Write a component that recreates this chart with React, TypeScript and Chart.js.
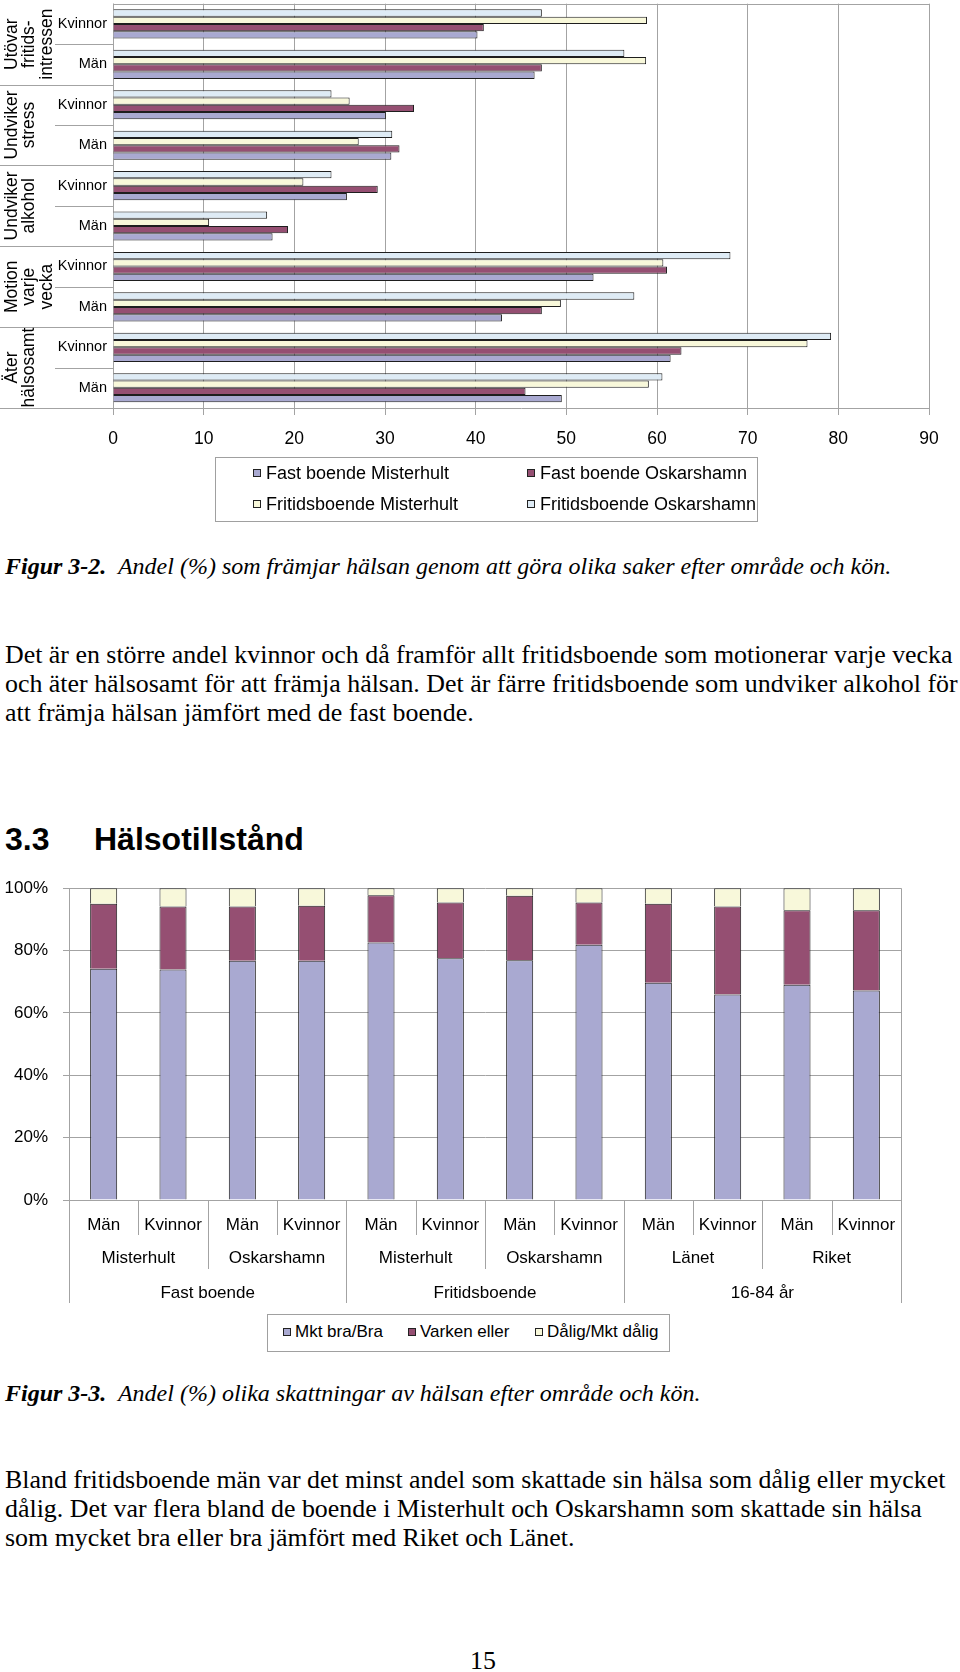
import React, { useEffect, useRef } from 'react';
import { Chart, registerables } from 'chart.js';

Chart.register(...registerables);

const SANS = '"Liberation Sans", Arial, sans-serif';
const SERIF = '"Liberation Serif", "Times New Roman", serif';

// ---------- Figur 3-2 (horizontal bars, categories listed top to bottom) ----------
const activityCategories = ['Kvinnor', 'Män', 'Kvinnor', 'Män', 'Kvinnor', 'Män', 'Kvinnor', 'Män', 'Kvinnor', 'Män'];
const activityGroups = [
  ['Utövar', 'fritids-', 'intressen'],
  ['Undviker', 'stress'],
  ['Undviker', 'alkohol'],
  ['Motion', 'varje', 'vecka'],
  ['Äter', 'hälsosamt'],
];
const fritidsOskarshamn = [47.3, 56.4, 24.1, 30.8, 24.1, 17.0, 68.1, 57.5, 79.2, 60.6];
const fritidsMisterhult = [58.9, 58.8, 26.1, 27.1, 21.0, 10.6, 60.7, 49.4, 76.6, 59.1];
const fastOskarshamn = [40.9, 47.3, 33.2, 31.6, 29.2, 19.3, 61.1, 47.3, 62.7, 45.5];
const fastMisterhult = [40.2, 46.5, 30.1, 30.7, 25.8, 17.6, 53.0, 42.9, 61.5, 49.5];
const activityTicks = [0, 10, 20, 30, 40, 50, 60, 70, 80, 90];

// ---------- Figur 3-3 (stacked columns) ----------
const healthSex = ['Män', 'Kvinnor', 'Män', 'Kvinnor', 'Män', 'Kvinnor', 'Män', 'Kvinnor', 'Män', 'Kvinnor', 'Män', 'Kvinnor'];
const healthArea = ['Misterhult', 'Oskarshamn', 'Misterhult', 'Oskarshamn', 'Länet', 'Riket'];
const healthGroup = ['Fast boende', 'Fritidsboende', '16-84 år'];
const mktBraBra = [74.2, 73.9, 76.7, 76.7, 82.6, 77.5, 76.9, 81.9, 69.7, 65.9, 69.0, 67.2];
const varkenEller = [20.8, 20.2, 17.4, 17.7, 15.1, 17.9, 20.7, 13.5, 25.3, 28.2, 23.9, 25.7];
const daligMktDalig = [5.0, 5.9, 5.9, 5.6, 2.3, 4.6, 2.4, 4.6, 5.0, 5.9, 7.1, 7.1];
const percentTicks = [0, 20, 40, 60, 80, 100];

const LAV = '#a9a9d1';
const MAR = '#954f72';
const CREAM = '#f8f8da';
const LBLUE = '#deebf5';
const EDGE = '#1e1e1e';
const GRID = '#a3a3a3';

function ActivityChart() {
  const ref = useRef<HTMLCanvasElement>(null);
  useEffect(() => {
    const plugin = {
      id: 'activityDecor',
      beforeDatasetsDraw(chart: any) {
        const { ctx, chartArea } = chart;
        const y = chart.scales.y;
        const n = activityCategories.length;
        const step = y.getPixelForValue(1) - y.getPixelForValue(0);
        ctx.save();
        ctx.strokeStyle = GRID;
        ctx.lineWidth = 1;
        ctx.beginPath();
        const t = Math.round(chartArea.top) + 0.5;
        ctx.moveTo(chartArea.left, t);
        ctx.lineTo(chartArea.right, t);
        const l = Math.round(chartArea.left) + 0.5;
        ctx.moveTo(l, chartArea.top);
        ctx.lineTo(l, chartArea.bottom);
        for (let i = 1; i <= n; i++) {
          const yy = Math.round(y.getPixelForValue(i) - step / 2) + 0.5;
          ctx.moveTo(i % 2 === 0 ? 0 : 55, yy);
          ctx.lineTo(chartArea.left, yy);
        }
        ctx.stroke();
        ctx.fillStyle = '#000';
        ctx.font = `17.5px ${SANS}`;
        ctx.textAlign = 'center';
        ctx.textBaseline = 'middle';
        activityGroups.forEach((lines, g) => {
          const cy = y.getPixelForValue(2 * g) + step / 2;
          lines.forEach((txt, k) => {
            ctx.save();
            ctx.translate(12 + 17.5 * k, cy);
            ctx.rotate(-Math.PI / 2);
            ctx.fillText(txt, 0, 0);
            ctx.restore();
          });
        });
        ctx.restore();
      },
    };
    const common = { borderColor: EDGE, borderWidth: 1, categoryPercentage: 0.72, barPercentage: 1 };
    const chart = new Chart(ref.current as HTMLCanvasElement, {
      type: 'bar',
      data: {
        labels: activityCategories,
        datasets: [
          { label: 'Fritidsboende Oskarshamn', data: fritidsOskarshamn, backgroundColor: LBLUE, ...common },
          { label: 'Fritidsboende Misterhult', data: fritidsMisterhult, backgroundColor: CREAM, ...common },
          { label: 'Fast boende Oskarshamn', data: fastOskarshamn, backgroundColor: MAR, ...common },
          { label: 'Fast boende Misterhult', data: fastMisterhult, backgroundColor: LAV, ...common },
        ],
      },
      options: {
        indexAxis: 'y',
        responsive: false,
        animation: false,
        layout: { padding: { top: 4, right: 31, left: 0, bottom: 0 } },
        plugins: { legend: { display: false }, tooltip: { enabled: false } },
        scales: {
          x: {
            min: 0,
            max: 90,
            afterBuildTicks: (s: any) => { s.ticks = activityTicks.map((v) => ({ value: v })); },
            ticks: { color: '#000', font: { family: SANS, size: 17.5 }, padding: 14, maxRotation: 0 },
            grid: { color: GRID, tickLength: 7 },
            border: { color: GRID },
            afterFit: (s: any) => { s.height = 52; },
          },
          y: {
            ticks: { color: '#000', font: { family: SANS, size: 14.5 }, padding: 6 },
            grid: { display: false, drawTicks: false },
            border: { display: false },
            afterFit: (s: any) => { s.width = 113; },
          },
        },
      } as any,
      plugins: [plugin],
    });
    return () => chart.destroy();
  }, []);
  return <canvas ref={ref} width={960} height={471} style={{ display: 'block', width: 960, height: 471 }} />;
}

function HealthChart() {
  const ref = useRef<HTMLCanvasElement>(null);
  useEffect(() => {
    const plugin = {
      id: 'healthDecor',
      afterDraw(chart: any) {
        const { ctx, chartArea } = chart;
        const x = chart.scales.x;
        const n = healthSex.length;
        const step = x.getPixelForValue(1) - x.getPixelForValue(0);
        const b = chartArea.bottom;
        ctx.save();
        ctx.strokeStyle = GRID;
        ctx.lineWidth = 1;
        ctx.beginPath();
        const r = Math.round(chartArea.right) + 0.5;
        ctx.moveTo(r, chartArea.top);
        ctx.lineTo(r, b);
        for (let i = 0; i <= n; i++) {
          const xx = Math.round(x.getPixelForValue(i) - step / 2) + 0.5;
          const end = i % 4 === 0 ? 103 : i % 2 === 0 ? 69 : 35;
          ctx.moveTo(xx, b);
          ctx.lineTo(xx, b + end);
        }
        ctx.stroke();
        ctx.fillStyle = '#000';
        ctx.font = `17px ${SANS}`;
        ctx.textAlign = 'center';
        ctx.textBaseline = 'middle';
        healthSex.forEach((s, i) => ctx.fillText(s, x.getPixelForValue(i), b + 25));
        healthArea.forEach((s, i) => ctx.fillText(s, x.getPixelForValue(2 * i) + step / 2, b + 58));
        healthGroup.forEach((s, i) => ctx.fillText(s, x.getPixelForValue(4 * i) + step * 1.5, b + 93));
        ctx.restore();
      },
    };
    const common = { borderColor: EDGE, borderWidth: 1, categoryPercentage: 0.39, barPercentage: 1 };
    const chart = new Chart(ref.current as HTMLCanvasElement, {
      type: 'bar',
      data: {
        labels: healthSex,
        datasets: [
          { label: 'Mkt bra/Bra', data: mktBraBra, backgroundColor: LAV, ...common },
          { label: 'Varken eller', data: varkenEller, backgroundColor: MAR, ...common },
          { label: 'Dålig/Mkt dålig', data: daligMktDalig, backgroundColor: CREAM, ...common },
        ],
      },
      options: {
        responsive: false,
        animation: false,
        layout: { padding: { top: 18, right: 59, left: 0, bottom: 0 } },
        plugins: { legend: { display: false }, tooltip: { enabled: false } },
        scales: {
          x: {
            stacked: true,
            ticks: { display: false },
            grid: { display: false },
            border: { display: false },
            afterFit: (s: any) => { s.height = 110; },
          },
          y: {
            stacked: true,
            min: 0,
            max: 100,
            afterBuildTicks: (s: any) => { s.ticks = percentTicks.map((v) => ({ value: v })); },
            ticks: { color: '#000', font: { family: SANS, size: 17 }, padding: 15, callback: (v: any) => v + '%' },
            grid: { color: GRID, tickLength: 6 },
            border: { color: GRID },
            afterFit: (s: any) => { s.width = 69; },
          },
        },
      } as any,
      plugins: [plugin],
    });
    return () => chart.destroy();
  }, []);
  return <canvas ref={ref} width={960} height={447} style={{ display: 'block', width: 960, height: 447 }} />;
}

function Marker({ x, cy, color }: { x: number; cy: number; color: string }) {
  return (
    <div
      style={{
        position: 'absolute',
        left: x,
        top: cy - 4,
        width: 6,
        height: 6,
        background: color,
        border: '1px solid #222',
      }}
    />
  );
}

function Txt({ x, cy, size, lh, children, style }: any) {
  return (
    <div
      style={{
        position: 'absolute',
        left: x,
        top: cy - lh / 2,
        height: lh,
        lineHeight: lh + 'px',
        fontSize: size,
        whiteSpace: 'nowrap',
        color: '#000',
        ...style,
      }}
    >
      {children}
    </div>
  );
}

export default function App() {
  const body = { fontFamily: SERIF };
  const sans = { fontFamily: SANS };
  const P = 25.9;
  const C = 24;
  return (
    <div style={{ position: 'absolute', left: 0, top: 0, width: 960, height: 1672, background: '#fff', overflow: 'hidden' }}>
      <div style={{ position: 'absolute', left: 0, top: -11 }}>
        <ActivityChart />
      </div>

      {/* Legend Figur 3-2 */}
      <div style={{ position: 'absolute', left: 215, top: 457, width: 541, height: 63, border: '1px solid #a0a0a0' }}>
        <Marker x={37} cy={15} color={LAV} />
        <Txt x={50} cy={15} size={18} lh={22} style={sans}>Fast boende Misterhult</Txt>
        <Marker x={311} cy={15} color={MAR} />
        <Txt x={324} cy={15} size={18} lh={22} style={sans}>Fast boende Oskarshamn</Txt>
        <Marker x={37} cy={46} color={CREAM} />
        <Txt x={50} cy={46} size={18} lh={22} style={sans}>Fritidsboende Misterhult</Txt>
        <Marker x={311} cy={46} color={LBLUE} />
        <Txt x={324} cy={46} size={18} lh={22} style={sans}>Fritidsboende Oskarshamn</Txt>
      </div>

      <Txt x={5} cy={566} size={C} lh={28} style={body}>
        <b><i>Figur 3-2.</i></b>
        <i>&nbsp; Andel (%) som främjar hälsan genom att göra olika saker efter område och kön.</i>
      </Txt>

      <Txt x={5} cy={655} size={P} lh={30} style={body}>
        Det är en större andel kvinnor och då framför allt fritidsboende som motionerar varje vecka
      </Txt>
      <Txt x={5} cy={684} size={P} lh={30} style={body}>
        och äter hälsosamt för att främja hälsan. Det är färre fritidsboende som undviker alkohol för
      </Txt>
      <Txt x={5} cy={713} size={P} lh={30} style={body}>
        att främja hälsan jämfört med de fast boende.
      </Txt>

      <Txt x={5} cy={839} size={32} lh={38} style={{ ...sans, fontWeight: 'bold' }}>3.3</Txt>
      <Txt x={94} cy={839} size={32} lh={38} style={{ ...sans, fontWeight: 'bold' }}>Hälsotillstånd</Txt>

      <div style={{ position: 'absolute', left: 0, top: 863 }}>
        <HealthChart />
      </div>

      {/* Legend Figur 3-3 */}
      <div style={{ position: 'absolute', left: 267, top: 1314, width: 401, height: 36, border: '1px solid #a0a0a0' }}>
        <Marker x={15} cy={17} color={LAV} />
        <Txt x={27} cy={17} size={17} lh={22} style={sans}>Mkt bra/Bra</Txt>
        <Marker x={140} cy={17} color={MAR} />
        <Txt x={152} cy={17} size={17} lh={22} style={sans}>Varken eller</Txt>
        <Marker x={267} cy={17} color={CREAM} />
        <Txt x={279} cy={17} size={17} lh={22} style={sans}>Dålig/Mkt dålig</Txt>
      </div>

      <Txt x={5} cy={1393} size={C} lh={28} style={body}>
        <b><i>Figur 3-3.</i></b>
        <i>&nbsp; Andel (%) olika skattningar av hälsan efter område och kön.</i>
      </Txt>

      <Txt x={5} cy={1480} size={P} lh={30} style={body}>
        Bland fritidsboende män var det minst andel som skattade sin hälsa som dålig eller mycket
      </Txt>
      <Txt x={5} cy={1509} size={P} lh={30} style={body}>
        dålig. Det var flera bland de boende i Misterhult och Oskarshamn som skattade sin hälsa
      </Txt>
      <Txt x={5} cy={1538} size={P} lh={30} style={body}>
        som mycket bra eller bra jämfört med Riket och Länet.
      </Txt>

      <Txt x={0} cy={1661} size={P} lh={30} style={{ ...body, width: 966, textAlign: 'center' }}>15</Txt>
    </div>
  );
}
